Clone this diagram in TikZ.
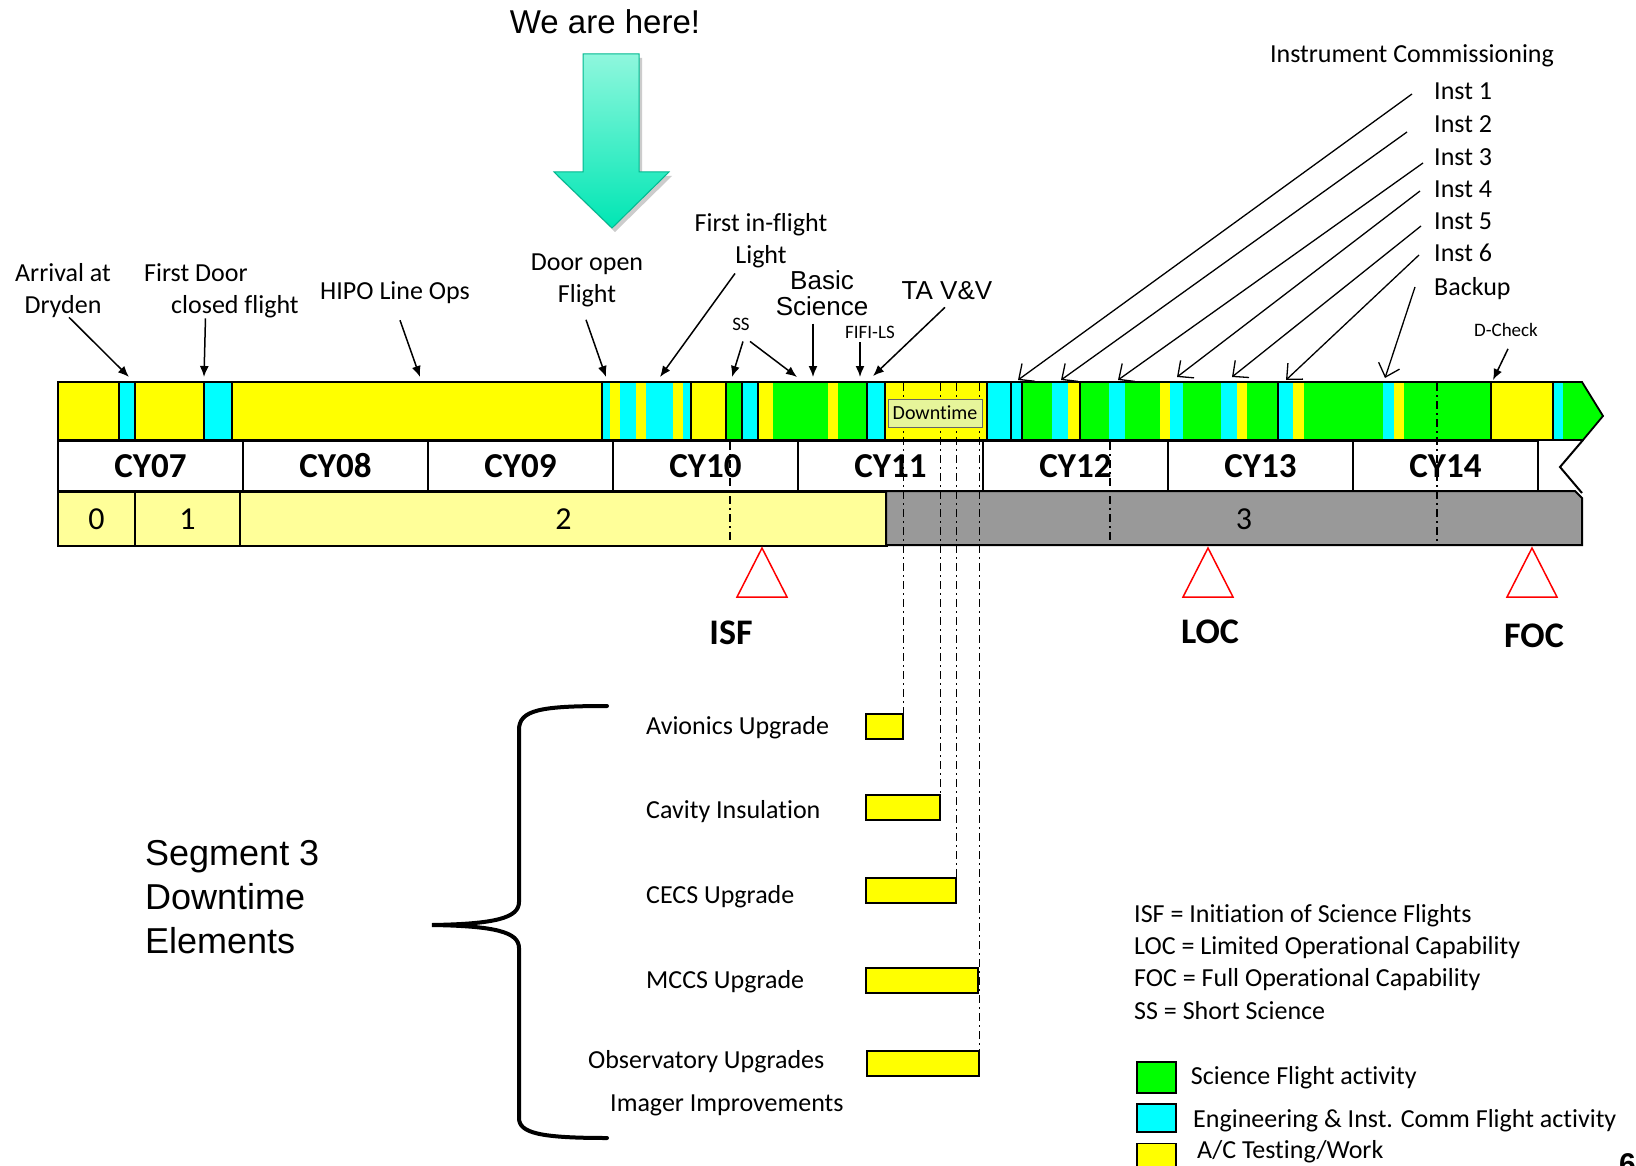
\documentclass[tikz,border=0pt]{standalone}
\usepackage{fontspec}
\setmainfont{Carlito}[Ligatures=NoCommon]
\newfontfamily\arialfont{Liberation Sans}
\usetikzlibrary{arrows.meta,positioning}

\definecolor{acyel}{HTML}{FFFF00}
\definecolor{engcyan}{HTML}{00FFFF}
\definecolor{scigreen}{HTML}{00FF00}
\definecolor{segyel}{HTML}{FFFF99}
\definecolor{seggray}{HTML}{999999}
\definecolor{herehi}{HTML}{8FF7DD}
\definecolor{herelo}{HTML}{00E6B4}
\definecolor{downfill}{HTML}{E6F59A}

% flight bar: bordered blocks and thin strips inside them
\def\barblocks{58/119/acyel, 119/135/engcyan, 135/204/acyel, 204/232/engcyan, 232/602/acyel,
  602/691/engcyan, 691/726/acyel, 726/742/scigreen, 742/758/engcyan, 758/867/scigreen,
  867/885/engcyan, 885/987/acyel, 987/1011/engcyan, 1011/1022/engcyan, 1022/1080/scigreen,
  1080/1278/scigreen, 1278/1491/scigreen, 1491/1553/acyel}
\def\barstrips{610/620/acyel, 636/646/acyel, 673/683/acyel, 758/773/acyel, 828/838/acyel,
  1052/1068/engcyan, 1068/1079/acyel, 1109/1125/engcyan, 1160/1170/acyel, 1170/1183/engcyan,
  1221/1237/engcyan, 1237/1247/acyel, 1279/1293/engcyan, 1293/1304/acyel, 1383/1394/engcyan,
  1394/1404/acyel, 1553/1563/engcyan}

\begin{document}
\begin{tikzpicture}[x=1pt, y=-1pt,
  lbl/.style={font=\fontsize{26}{32}\selectfont, align=center, inner sep=1pt},
  arl/.style={font=\arialfont\fontsize{26}{26}\selectfont, align=center, inner sep=1pt},
  note/.style={font=\fontsize{19}{22}\selectfont, inner sep=1pt},
  cycell/.style={draw, line width=2pt, fill=white, minimum width=185pt, minimum height=50pt, anchor=north west, inner sep=0pt, font=\bfseries\fontsize{35}{35}\selectfont},
  segcell/.style={draw, line width=2pt, fill=segyel, minimum height=54pt, anchor=north west, inner sep=0pt, font=\fontsize{32}{32}\selectfont},
  workbox/.style={draw, line width=1.5pt, fill=acyel, minimum height=25pt, anchor=north west, inner sep=0pt},
  keybox/.style={draw, line width=1.5pt, minimum width=39pt, inner sep=0pt},
  ptr/.style={-{Latex[length=11pt,width=9pt]}, line width=1.5pt},
  barb/.style={-{Straight Barb[length=12pt,width=22pt]}, line width=1.3pt},
  dashdot/.style={line width=1.3pt, dash pattern=on 8pt off 4pt on 2pt off 4pt},
  milestone/.style={draw=red, line width=1.5pt},
]
\useasboundingbox (0,0) rectangle (1636,1166);
\fill[white] (0,0) rectangle (1636,1166);

% calendar years
\foreach \yr [count=\i from 0] in {07,08,09,10,11,12,13,14}
  \node[cycell] (cy\yr) at (57+185*\i,440) {CY\yr};
\draw[line width=2pt] (1583,440) -- (1560,467) -- (1582,493);

% segments
\node[segcell, minimum width=77pt] (seg0) at (57,491) {0};
\node[segcell, minimum width=105pt] (seg1) at (134,491) {1};
\node[segcell, minimum width=647pt] (seg2) at (239,491) {2};
\draw[line width=2pt, fill=seggray] (886,491) -- (1575,491) -- (1582,498) -- (1582,545) -- (886,545) -- cycle;
\node[font=\fontsize{32}{32}\selectfont] (seg3) at (1244,519) {3};

% flight activity bar
\foreach \a/\b/\c in \barblocks
  \fill[\c] (\a,382) rectangle (\b,440);
\fill[scigreen] (1553,382) -- (1582,382) -- (1603,416) -- (1583,440) -- (1553,440) -- cycle;
\foreach \a/\b/\c in \barstrips
  \fill[\c] (\a,382) rectangle (\b,440);
\foreach \a/\b/\c in \barblocks
  \draw[line width=1.8pt] (\a,382) rectangle (\b,440);
\draw[line width=1.8pt] (1553,382) -- (1582,382) -- (1603,416) -- (1583,440) -- (1553,440);

% downtime elements
\node[workbox, minimum width=37pt] (avbox) at (865,713) {};
\node[workbox, minimum width=74pt] (cavbox) at (865,794) {};
\node[workbox, minimum width=90pt] (cecsbox) at (865,877) {};
\node[workbox, minimum width=112pt] (mccsbox) at (865,967) {};
\node[workbox, minimum width=112pt] (obsbox) at (866,1050) {};
\node[lbl, anchor=west] (avlbl) at (645,728) {Avionics Upgrade};
\node[lbl, anchor=west] (cavlbl) at (645,812) {Cavity Insulation};
\node[lbl, anchor=west] (cecslbl) at (645,897) {CECS Upgrade};
\node[lbl, anchor=west] (mccslbl) at (645,982) {MCCS Upgrade};
\node[lbl, anchor=west] (obslbl) at (587,1062) {Observatory Upgrades};
\node[lbl, anchor=west] (imglbl) at (609,1105) {Imager Improvements};

\coordinate (bartop) at (0,383);
\foreach \b in {avbox,cavbox,cecsbox,obsbox}
  \draw[dashdot] (\b.north east |- bartop) -- (\b.north east);
\draw[dashdot] (730,442) -- (730,541);
\draw[dashdot] (1110,442) -- (1110,543);
\draw[dashdot] (1437,383) -- (1437,545);

\node[draw=black!60, line width=1pt, fill=downfill, font=\fontsize{20}{20}\selectfont, minimum width=94pt, minimum height=28pt, inner sep=0pt] (downtime) at (935,413) {Downtime};

% events above the bar
\node[lbl] (arrival) at (63,291) {Arrival at\\Dryden};
\node[lbl, align=left, anchor=west] (firstdoor) at (143,291) {First Door\\\hspace*{27pt}closed flight};
\node[lbl] (hipo) at (395,293) {HIPO Line Ops};
\node[lbl] (dooropen) at (587,280) {Door open\\Flight};
\node[lbl] (inflight) at (761,241) {First in-flight\\Light};
\node[arl] (basic) at (822,293) {Basic\\Science};
\node[arl] (tavv) at (947,291) {TA V\&V};
\node[note] (ss) at (741,324) {SS};
\node[note] (fifi) at (870,332) {FIFI-LS};
\node[note] (dcheck) at (1506,330) {D-Check};
\node[lbl] (instcomm) at (1412,56) {Instrument Commissioning};

\coordinate (t-arrival) at (129,377);
\coordinate (t-firstdoor) at (204,377);
\coordinate (t-hipo) at (420,377);
\coordinate (t-dooropen) at (606,377);
\coordinate (t-inflight) at (660,377);
\coordinate (t-ss1) at (732,377);
\coordinate (t-ss2) at (797,377);
\coordinate (t-basic) at (813,377);
\coordinate (t-fifi) at (860,377);
\coordinate (t-tavv) at (873,376);
\coordinate (t-dcheck) at (1493,380);

\draw[ptr] ([shift={(6,-2)}]arrival.south) -- (t-arrival);
\draw[ptr] ([shift={(-16,-1)}]firstdoor.south) -- (t-firstdoor);
\draw[ptr] ([shift={(5,15)}]hipo.south) -- (t-hipo);
\draw[ptr] ([shift={(-1,12)}]dooropen.south) -- (t-dooropen);
\draw[ptr] ([shift={(-26,4)}]inflight.south) -- (t-inflight);
\draw[ptr] ([shift={(2,10)}]ss.south) -- (t-ss1);
\draw[ptr] ([shift={(9,10)}]ss.south) -- (t-ss2);
\draw[ptr] ([shift={(-9,7)}]basic.south) -- (t-basic);
\draw[ptr] ([shift={(-10,3)}]fifi.south) -- (t-fifi);
\draw[ptr] ([shift={(-2,6)}]tavv.south) -- (t-tavv);
\draw[ptr] ([shift={(2,11)}]dcheck.south) -- (t-dcheck);

% instrument commissioning
\foreach \n/\txt/\y/\sx/\sy/\tx/\ty in {1/Inst 1/91/-21/3/1018/380, 2/Inst 2/124/-26/8/1061/380,
    3/Inst 3/157/-10/6/1118/380, 4/Inst 4/189/-13/2/1177/377, 5/Inst 5/221/-12/5/1232/377,
    6/Inst 6/253/-14/2/1286/380, 7/Backup/289/-18/-2/1385/378}{
  \node[lbl, anchor=west] (inst\n) at (1433,\y) {\txt};
  \coordinate (t-inst\n) at (\tx,\ty);
  \draw[barb] ([shift={(\sx,\sy)}]inst\n.west) -- (t-inst\n);
}

% we are here
\node[font=\arialfont\fontsize{33}{33}\selectfont] (here) at (605,22) {We are here!};
\fill[black!20] (586,58) -- (642,58) -- (642,176) -- (672,176) -- (615,232) -- (557,176) -- (586,176) -- cycle;
\shadedraw[top color=herehi, bottom color=herelo, draw=herelo!80!black, line width=1pt]
  (583,54) -- (639,54) -- (639,172) -- (669,172) -- (612,228) -- (554,172) -- (583,172) -- cycle;

% milestones
\foreach \n/\txt/\tx/\lx/\ly in {isf/ISF/762/731/633, loc/LOC/1208/1210/632, foc/FOC/1532/1534/636}{
  \draw[milestone] (\tx,548) -- (\tx+25,597) -- (\tx-25,597) -- cycle;
  \node[font=\bfseries\fontsize{36}{36}\selectfont] (\n) at (\lx,\ly) {\txt};
}

% brace and segment 3 note
\draw[line width=4pt, line cap=round] (607,706) .. controls (540,706) and (519,710) .. (519,730)
  -- (519,902) .. controls (519,918) and (495,924) .. (432,925)
  .. controls (495,926) and (519,932) .. (519,948)
  -- (519,1118) .. controls (519,1133) and (540,1138) .. (607,1138);
\node[font=\arialfont\fontsize{36}{44}\selectfont, align=left, anchor=west, inner sep=0pt] (segtxt) at (145,897) {Segment 3\\Downtime\\Elements};

% abbreviations and key
\foreach \ab/\txt/\y in {ISF/Initiation of Science Flights/916, LOC/Limited Operational Capability/948,
    FOC/Full Operational Capability/980, SS/Short Science/1011}
  \node[lbl, anchor=west] (def-\ab) at (1133,\y) {\ab{} = \txt};

\node[keybox, fill=scigreen, minimum height=31pt] (key-sci) at (1156.5,1077.5) {};
\node[keybox, fill=engcyan, minimum height=28pt] (key-eng) at (1156.5,1118) {};
\node[keybox, fill=acyel, minimum height=31pt] (key-ac) at (1156.5,1159) {};
\node[lbl, right=13pt of key-sci] (key-sci-txt) {Science Flight activity};
\node[lbl, anchor=west] (key-eng-txt) at (1192,1121) {Engineering \& Inst. Comm Flight activity};
\node[lbl, anchor=west] (key-ac-txt) at (1196,1152) {A/C Testing/Work};
\node[font=\arialfont\bfseries\fontsize{30}{30}\selectfont, anchor=north west, inner sep=0pt] (pagenum) at (1619,1153) {6};
\end{tikzpicture}
\end{document}
